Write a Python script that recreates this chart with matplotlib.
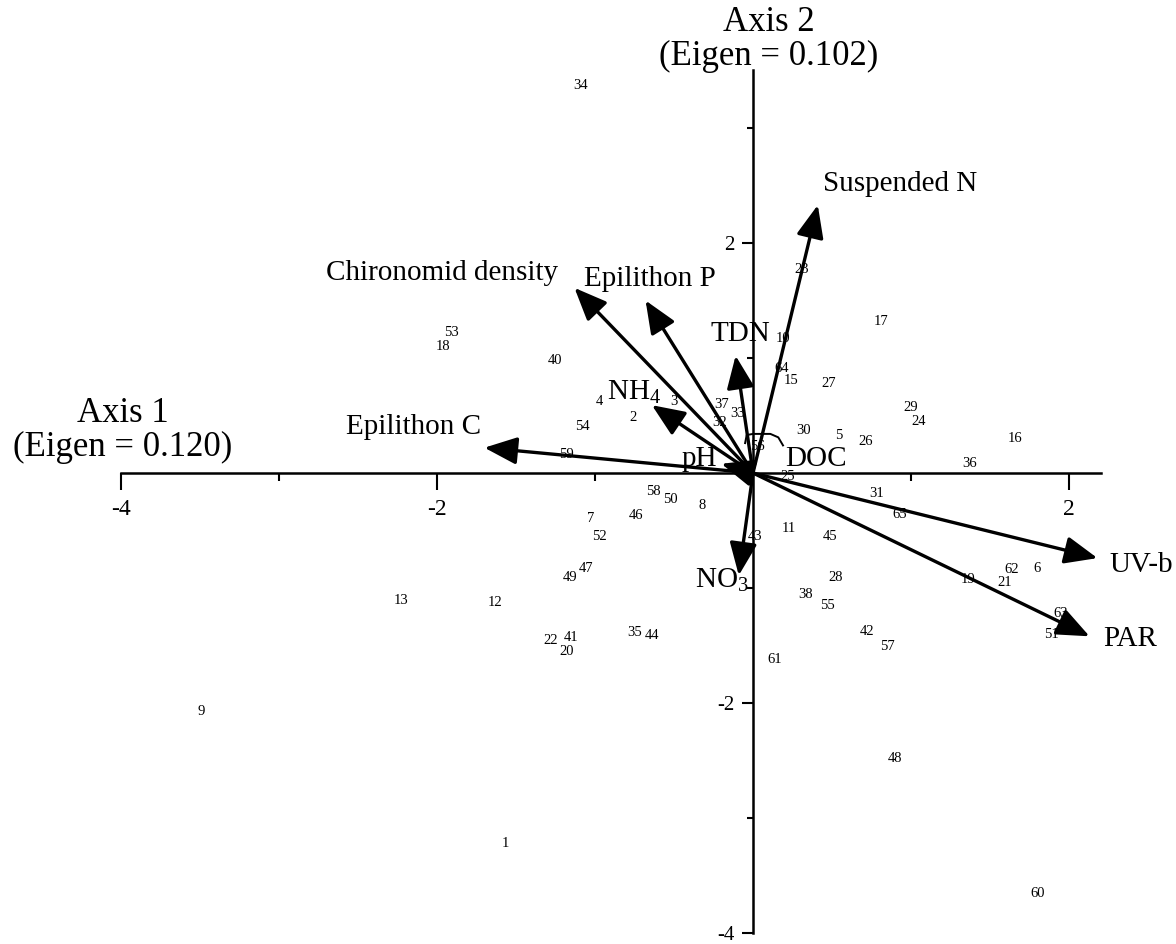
import matplotlib
matplotlib.use("Agg")
import matplotlib.pyplot as plt
from matplotlib.ticker import FixedLocator, FixedFormatter

plt.rcParams['font.family'] = ['Liberation Serif', 'DejaVu Serif']
plt.rcParams['mathtext.fontset'] = 'custom'
plt.rcParams['mathtext.rm'] = 'Liberation Serif'
plt.rcParams['mathtext.default'] = 'regular'

# ---- site scores (axis 1, axis 2) ----
site_labels = ["1", "2", "3", "4", "5", "6", "7", "8", "9", "10",
               "11", "12", "13", "15", "16", "17", "18", "19", "20", "21",
               "22", "23", "24", "25", "26", "27", "28", "29", "30", "31",
               "32", "33", "34", "35", "36", "37", "38", "40", "41", "42",
               "43", "44", "45", "46", "47", "48", "49", "50", "51", "52",
               "53", "54", "55", "56", "57", "58", "59", "60", "61", "62",
               "63", "64", "65"]
site_x = [-1.57, -0.76, -0.50, -0.97, 0.54, 1.80, -1.03, -0.32, -3.49, 0.19,
          0.23, -1.63, -2.23, 0.24, 1.66, 0.81, -1.96, 1.36, -1.18, 1.59,
          -1.28, 0.31, 1.05, 0.22, 0.71, 0.48, 0.52, 1.00, 0.32, 0.78,
          -0.21, -0.10, -1.09, -0.75, 1.37, -0.20, 0.33, -1.25, -1.15, 0.72,
          0.01, -0.64, 0.49, -0.74, -1.06, 0.90, -1.16, -0.52, 1.89, -0.97,
          -1.91, -1.08, 0.47, 0.03, 0.85, -0.63, -1.18, 1.80, 0.14, 1.64,
          1.95, 0.18, 0.93]
site_y = [-3.22, 0.48, 0.62, 0.62, 0.33, -0.83, -0.40, -0.28, -2.07, 1.17,
          -0.48, -1.13, -1.11, 0.80, 0.30, 1.32, 1.10, -0.93, -1.55, -0.95,
          -1.46, 1.77, 0.45, -0.03, 0.27, 0.78, -0.91, 0.57, 0.37, -0.18,
          0.44, 0.52, 3.37, -1.39, 0.08, 0.60, -1.06, 0.98, -1.43, -1.38,
          -0.55, -1.41, -0.55, -0.37, -0.83, -2.48, -0.91, -0.23, -1.40, -0.55,
          1.22, 0.40, -1.15, 0.23, -1.51, -0.16, 0.16, -3.66, -1.62, -0.84,
          -1.22, 0.91, -0.36]

# ---- environmental vectors ----
env_names = ["Epilithon C", "Chironomid density", "Epilithon P", "TDN",
             "Suspended N", "NH$_4$", "pH", "NO$_3$", "UV-b", "PAR"]
env_x = [-1.70, -1.13, -0.68, -0.11, 0.41, -0.64, -0.20, -0.09, 2.18, 2.13]
env_y = [0.22, 1.61, 1.50, 1.02, 2.33, 0.59, 0.08, -0.89, -0.74, -1.42]

# label positions for the vectors (layout only)
env_label_pos = [(-2.15, 0.40), (-1.97, 1.74), (-0.65, 1.69), (-0.08, 1.21),
                 (0.93, 2.51), (-0.75, 0.70), (-0.34, 0.12), (-0.20, -0.93),
                 (2.46, -0.80), (2.39, -1.44)]

# DOC leader curve (layout)
doc_curve_x = [-0.05, -0.04, 0.00, 0.11, 0.16, 0.19]
doc_curve_y = [0.26, 0.33, 0.34, 0.34, 0.31, 0.24]

y_major = [2, -2, -4]
y_minor = [3, 1, -1, -3]

fig = plt.figure(figsize=(11.76, 9.44), dpi=100)
ax = fig.add_axes([0, 0, 1, 1])
ax.set_xlim(-753 / 158, (1176 - 753) / 158)
ax.set_ylim((473 - 944) / 115, 473 / 115)
ax.patch.set_alpha(0)

for s in ['top', 'right']:
    ax.spines[s].set_visible(False)
ax.spines['bottom'].set_position(('data', 0))
ax.spines['left'].set_position(('data', 0))
ax.spines['bottom'].set_bounds(-4, 2.2)
ax.spines['left'].set_bounds(-4, 3.5)
ax.spines['bottom'].set_linewidth(1.8)
ax.spines['left'].set_linewidth(1.8)

ax.xaxis.set_major_locator(FixedLocator([-4, -2, 2]))
ax.xaxis.set_major_formatter(FixedFormatter(["-4", "-2", "2"]))
ax.xaxis.set_minor_locator(FixedLocator([-3, -1, 1]))
ax.yaxis.set_major_locator(FixedLocator(y_major))
ax.yaxis.set_major_formatter(FixedFormatter([str(v) for v in y_major]))
ax.yaxis.set_minor_locator(FixedLocator(y_minor))
ax.tick_params(axis='x', which='major', direction='out', length=12, width=1.5,
               labelsize=17, pad=7)
ax.tick_params(axis='x', which='minor', direction='out', length=6, width=1.5)
ax.tick_params(axis='y', which='major', direction='out', length=8, width=1.5,
               labelsize=15, pad=5)
ax.tick_params(axis='y', which='minor', direction='out', length=4, width=1.5)

# site labels
for lab, x, y in zip(site_labels, site_x, site_y):
    ax.text(x, y, lab, fontsize=10.5, ha='center', va='center', zorder=2)

# vectors
for name, x, y, (lx, ly) in zip(env_names, env_x, env_y, env_label_pos):
    ax.annotate('', xy=(x, y), xytext=(0, 0),
                arrowprops=dict(arrowstyle='-|>,head_length=1.0,head_width=0.42',
                                mutation_scale=20, lw=2.4, color='black',
                                shrinkA=0, shrinkB=0), zorder=4)
    ax.text(lx, ly, name, fontsize=21, ha='center', va='center', zorder=5)

ax.plot(doc_curve_x, doc_curve_y, color='black', lw=1.4, zorder=3)
ax.text(0.40, 0.12, "DOC", fontsize=21, ha='center', va='center', zorder=5)

ax.text(-3.99, 0.37, "Axis 1\n(Eigen = 0.120)", fontsize=25, ha='center',
        va='center', linespacing=1.05)
ax.text(0.10, 3.77, "Axis 2\n(Eigen = 0.102)", fontsize=25, ha='center',
        va='center', linespacing=1.05)

fig.savefig("out.png", dpi=100, facecolor='white')
